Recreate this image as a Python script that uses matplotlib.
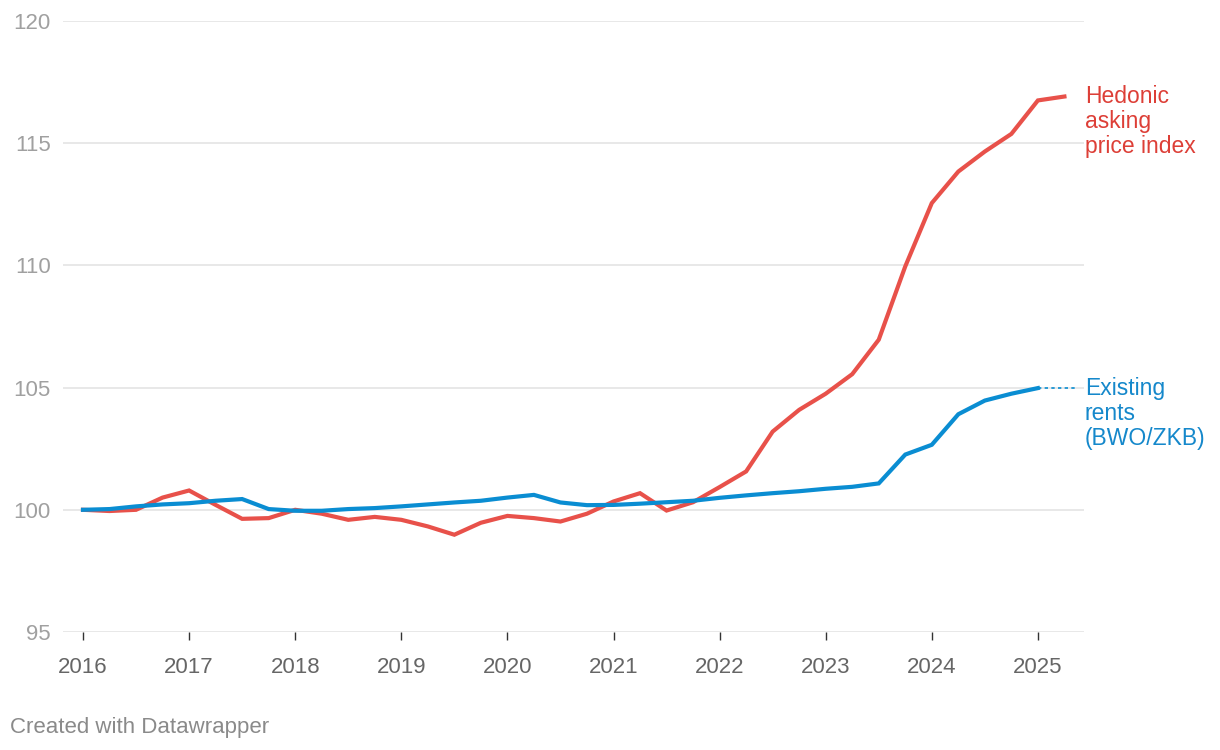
import numpy as np
import matplotlib
matplotlib.use('Agg')
import matplotlib.pyplot as plt
import matplotlib.transforms as mtransforms

plt.rcParams['font.family'] = ['Liberation Sans', 'DejaVu Sans']

# quarterly data, 2016 Q1 onwards
start_year = 2016
hedonic = [100.0, 99.95, 100.0, 100.5, 100.79, 100.2, 99.63, 99.66,
           100.0, 99.84, 99.59, 99.71, 99.59, 99.32, 98.98, 99.47,
           99.75, 99.66, 99.52, 99.84, 100.34, 100.68, 99.97, 100.31,
           100.93, 101.57, 103.2, 104.09, 104.75, 105.55, 106.96, 109.96,
           112.55, 113.84, 114.66, 115.38, 116.75, 116.91]
existing = [100.0, 100.03, 100.14, 100.22, 100.27, 100.37, 100.44, 100.03,
            99.96, 99.96, 100.03, 100.07, 100.14, 100.22, 100.3, 100.37,
            100.5, 100.61, 100.3, 100.19, 100.2, 100.25, 100.31, 100.37,
            100.49, 100.59, 100.68, 100.76, 100.86, 100.94, 101.08, 102.26,
            102.66, 103.91, 104.47, 104.75, 104.98]
year_ticks = list(range(2016, 2026))
y_ticks = [95, 100, 105, 110, 115, 120]

x_hed = start_year + np.arange(len(hedonic)) / 4.0
x_ex = start_year + np.arange(len(existing)) / 4.0

red = '#e8514a'
red_txt = '#dd3f37'
blue = '#0a8dd2'
blue_txt = '#1588cb'

fig = plt.figure(figsize=(12.2, 7.5), dpi=100)
ax = fig.add_axes([63/1220, 1-632/750, (1084-63)/1220, (632-21)/750])

ax.set_xlim(2016 - 20/106.1, 2016 + (1084-83)/106.1)
ax.set_ylim(95, 120)

for v in y_ticks:
    ax.axhline(v, color='#e2e2e2', lw=1.1, zorder=0)

ax.plot(x_hed, hedonic, color=red, lw=3, solid_joinstyle='miter', zorder=3)
ax.plot(x_ex, existing, color=blue, lw=3, solid_joinstyle='miter', zorder=4)

# dotted connector to the blue label
ax.plot([x_ex[-1], x_ex[-1] + 0.36], [existing[-1], existing[-1]],
        color=blue, lw=1.2, ls=(0, (2, 2)), zorder=4)

for s in ax.spines.values():
    s.set_visible(False)

ax.set_yticks(y_ticks)
ax.set_yticklabels([str(v) for v in y_ticks])
ax.tick_params(axis='y', length=0, pad=9, labelsize=16, labelcolor='#a0a0a0')
ax.set_xticks(year_ticks)
ax.set_xticklabels([str(v) for v in year_ticks])
ax.tick_params(axis='x', length=6, width=1, color='#333333', pad=12,
               labelsize=16, labelcolor='#666666')

trans = mtransforms.blended_transform_factory(ax.transAxes, ax.transData)
ax.annotate('Hedonic\nasking\nprice index', xy=(1.0, hedonic[-1]), xycoords=trans,
            xytext=(0.5, 8), textcoords='offset points', ha='left', va='top',
            fontsize=16.5, color=red_txt, linespacing=1.1, annotation_clip=False)
ax.annotate('Existing\nrents\n(BWO/ZKB)', xy=(1.0, existing[-1]), xycoords=trans,
            xytext=(0.5, 8), textcoords='offset points', ha='left', va='top',
            fontsize=16.5, color=blue_txt, linespacing=1.1, annotation_clip=False)

fig.text(10/1220, 1-727/750, 'Created with Datawrapper', fontsize=16,
         color='#8a8a8a', ha='left', va='center')

fig.savefig('out.png', dpi=100)
